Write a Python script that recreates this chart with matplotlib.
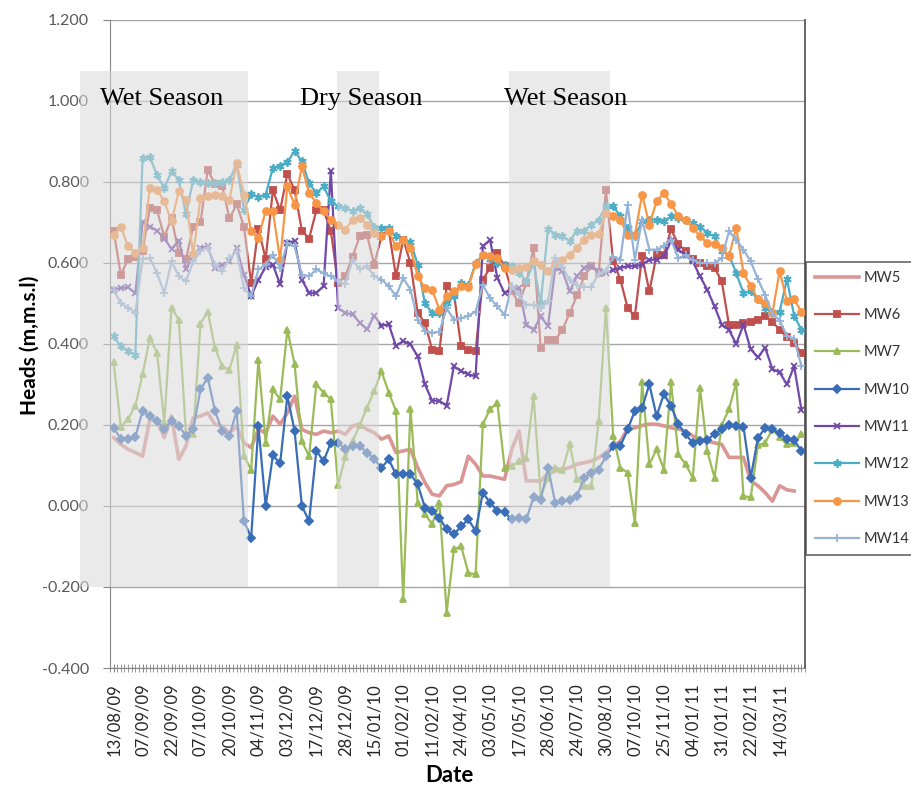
import numpy as np
import matplotlib
matplotlib.use('Agg')
import matplotlib.pyplot as plt
from matplotlib.patches import Rectangle

plt.rcParams['font.family'] = ['Lato', 'DejaVu Sans']

nan = np.nan

# dates shown on the category axis (one label every 4 readings)
date_labels = ['13/08/09', '07/09/09', '22/09/09', '07/10/09', '20/10/09', '04/11/09',
               '03/12/09', '17/12/09', '28/12/09', '15/01/10', '01/02/10', '11/02/10',
               '24/04/10', '03/05/10', '17/05/10', '28/06/10', '24/07/10', '30/08/10',
               '07/10/10', '25/11/10', '04/01/11', '31/01/11', '22/02/11', '14/03/11']

# groundwater heads (m, m.s.l) for each monitoring well
mw5 = [0.169, 0.152, 0.140, 0.132, 0.123, 0.214, 0.210, 0.169, 0.222, 0.115,
       0.148, 0.218, 0.222, 0.230, 0.202, 0.197, 0.180, 0.197, 0.156, 0.144,
       0.190, 0.180, 0.222, 0.202, 0.230, 0.271, 0.189, 0.181, 0.177, 0.185,
       0.181, 0.185, 0.177, 0.198, 0.202, 0.189, 0.181, 0.165, 0.173, 0.132,
       0.136, 0.140, 0.095, 0.058, 0.029, 0.025, 0.050, 0.053, 0.060, 0.123,
       0.103, 0.074, 0.074, 0.070, 0.066, 0.140, 0.185, 0.062, 0.062, 0.062,
       0.080, 0.086, 0.090, 0.095, 0.103, 0.107, 0.111, 0.119, 0.132, 0.148,
       0.160, 0.190, 0.193, 0.199, 0.202, 0.202, 0.198, 0.193, 0.190, 0.185,
       0.173, 0.165, 0.160, 0.156, 0.152, 0.120, 0.120, 0.120, 0.062, 0.050,
       0.033, 0.012, 0.050, 0.040, 0.037, nan]

mw6 = [0.680, 0.570, 0.610, 0.615, 0.630, 0.735, 0.730, 0.665, 0.710, 0.625,
       0.610, 0.690, 0.700, 0.830, 0.795, 0.790, 0.710, 0.745, 0.690, 0.550,
       0.685, 0.610, 0.780, 0.730, 0.820, 0.780, 0.680, 0.660, 0.730, 0.730,
       0.680, 0.550, 0.567, 0.616, 0.666, 0.670, 0.596, 0.666, 0.682, 0.567,
       0.658, 0.600, 0.477, 0.452, 0.386, 0.382, 0.542, 0.526, 0.394, 0.386,
       0.382, 0.559, 0.588, 0.625, 0.592, 0.530, 0.500, 0.550, 0.637, 0.390,
       0.410, 0.410, 0.435, 0.477, 0.520, 0.567, 0.592, 0.575, 0.780, 0.604,
       0.559, 0.489, 0.469, 0.617, 0.530, 0.620, 0.620, 0.683, 0.646, 0.630,
       0.609, 0.600, 0.592, 0.588, 0.555, 0.447, 0.447, 0.451, 0.455, 0.460,
       0.468, 0.455, 0.435, 0.418, 0.402, 0.378]

mw7 = [0.355, 0.195, 0.215, 0.247, 0.325, 0.415, 0.378, 0.205, 0.490, 0.460,
       0.178, 0.178, 0.450, 0.480, 0.390, 0.345, 0.337, 0.398, 0.123, 0.090,
       0.360, 0.156, 0.288, 0.263, 0.435, 0.350, 0.160, 0.123, 0.300, 0.280,
       0.263, 0.053, 0.120, 0.160, 0.200, 0.243, 0.284, 0.333, 0.280, 0.235,
       -0.230, 0.240, 0.008, -0.020, -0.045, 0.008, -0.263, -0.107, -0.099, -0.165,
       -0.169, 0.202, 0.239, 0.255, 0.095, 0.099, 0.110, 0.119, 0.272, 0.025,
       0.070, 0.095, 0.090, 0.152, 0.066, 0.050, 0.049, 0.210, 0.490, 0.173,
       0.095, 0.082, -0.041, 0.305, 0.103, 0.140, 0.090, 0.305, 0.128, 0.103,
       0.070, 0.292, 0.136, 0.070, 0.200, 0.239, 0.305, 0.025, 0.021, 0.150,
       0.156, 0.190, 0.170, 0.152, 0.155, 0.177]

mw10 = [0.193, 0.165, 0.165, 0.170, 0.235, 0.222, 0.210, 0.190, 0.210, 0.198,
        0.173, 0.190, 0.288, 0.317, 0.235, 0.185, 0.173, 0.235, -0.037, -0.078,
        0.197, 0.000, 0.125, 0.105, 0.272, 0.185, 0.000, -0.037, 0.136, 0.111,
        0.156, 0.156, 0.140, 0.148, 0.148, 0.132, 0.115, 0.095, 0.115, 0.078,
        0.078, 0.078, 0.054, -0.004, -0.012, -0.029, -0.058, -0.070, -0.050, -0.033,
        -0.062, 0.033, 0.008, -0.012, -0.016, -0.033, -0.029, -0.033, 0.021, 0.016,
        0.095, 0.008, 0.012, 0.016, 0.025, 0.070, 0.082, 0.090, 0.123, 0.148,
        0.148, 0.189, 0.235, 0.243, 0.300, 0.222, 0.276, 0.247, 0.202, 0.177,
        0.156, 0.160, 0.164, 0.177, 0.189, 0.200, 0.198, 0.196, 0.070, 0.168,
        0.193, 0.189, 0.180, 0.165, 0.163, 0.136]

mw11 = [0.534, 0.538, 0.540, 0.525, 0.700, 0.690, 0.680, 0.660, 0.635, 0.655,
        0.585, 0.620, 0.637, 0.641, 0.588, 0.596, 0.604, 0.637, 0.571, 0.518,
        0.559, 0.590, 0.596, 0.547, 0.650, 0.654, 0.559, 0.526, 0.526, 0.543,
        0.827, 0.489, 0.477, 0.473, 0.453, 0.436, 0.470, 0.445, 0.449, 0.395,
        0.407, 0.399, 0.370, 0.300, 0.260, 0.260, 0.247, 0.345, 0.333, 0.325,
        0.320, 0.641, 0.657, 0.563, 0.526, 0.534, 0.538, 0.448, 0.435, 0.468,
        0.444, 0.588, 0.580, 0.530, 0.567, 0.588, 0.592, 0.580, 0.575, 0.583,
        0.588, 0.592, 0.592, 0.596, 0.608, 0.608, 0.617, 0.654, 0.633, 0.620,
        0.604, 0.567, 0.534, 0.493, 0.448, 0.435, 0.400, 0.448, 0.387, 0.367,
        0.391, 0.338, 0.330, 0.300, 0.345, 0.238]

mw12 = [0.419, 0.394, 0.382, 0.374, 0.860, 0.862, 0.817, 0.785, 0.826, 0.806,
        0.720, 0.806, 0.800, 0.798, 0.798, 0.800, 0.806, 0.843, 0.732, 0.770,
        0.763, 0.768, 0.835, 0.840, 0.850, 0.876, 0.851, 0.797, 0.773, 0.789,
        0.752, 0.740, 0.736, 0.728, 0.736, 0.720, 0.690, 0.686, 0.686, 0.666,
        0.658, 0.653, 0.596, 0.500, 0.477, 0.477, 0.500, 0.518, 0.550, 0.545,
        0.600, 0.620, 0.610, 0.600, 0.596, 0.592, 0.575, 0.555, 0.600, 0.500,
        0.685, 0.670, 0.666, 0.654, 0.680, 0.680, 0.695, 0.707, 0.740, 0.740,
        0.716, 0.687, 0.666, 0.703, 0.707, 0.707, 0.703, 0.715, 0.711, 0.707,
        0.699, 0.690, 0.674, 0.666, 0.630, 0.620, 0.575, 0.526, 0.530, 0.510,
        0.490, 0.478, 0.480, 0.560, 0.470, 0.435]

mw13 = [0.670, 0.689, 0.641, 0.625, 0.637, 0.785, 0.781, 0.752, 0.703, 0.777,
        0.756, 0.621, 0.760, 0.765, 0.769, 0.765, 0.756, 0.847, 0.769, 0.678,
        0.662, 0.728, 0.728, 0.608, 0.789, 0.744, 0.839, 0.773, 0.748, 0.728,
        0.707, 0.695, 0.682, 0.707, 0.711, 0.695, 0.674, 0.666, 0.678, 0.641,
        0.658, 0.637, 0.567, 0.538, 0.534, 0.485, 0.518, 0.531, 0.543, 0.540,
        0.597, 0.620, 0.618, 0.612, 0.587, 0.583, 0.587, 0.591, 0.604, 0.596,
        0.580, 0.600, 0.608, 0.620, 0.637, 0.658, 0.670, 0.672, 0.723, 0.715,
        0.707, 0.670, 0.670, 0.769, 0.695, 0.752, 0.773, 0.745, 0.716, 0.707,
        0.687, 0.666, 0.650, 0.646, 0.637, 0.617, 0.687, 0.575, 0.543, 0.510,
        0.500, 0.477, 0.580, 0.506, 0.510, 0.480]

mw14 = [0.534, 0.500, 0.490, 0.477, 0.610, 0.612, 0.575, 0.526, 0.604, 0.567,
        0.555, 0.604, 0.629, 0.637, 0.596, 0.580, 0.612, 0.629, 0.538, 0.518,
        0.584, 0.596, 0.620, 0.588, 0.649, 0.641, 0.571, 0.567, 0.584, 0.575,
        0.567, 0.555, 0.547, 0.608, 0.584, 0.592, 0.567, 0.559, 0.543, 0.518,
        0.563, 0.534, 0.460, 0.432, 0.428, 0.430, 0.488, 0.460, 0.463, 0.470,
        0.480, 0.546, 0.513, 0.493, 0.472, 0.543, 0.520, 0.497, 0.497, 0.489,
        0.505, 0.612, 0.590, 0.557, 0.545, 0.541, 0.541, 0.574, 0.580, 0.616,
        0.608, 0.744, 0.608, 0.707, 0.633, 0.633, 0.641, 0.658, 0.612, 0.620,
        0.607, 0.600, 0.600, 0.600, 0.612, 0.678, 0.658, 0.633, 0.604, 0.560,
        0.520, 0.475, 0.458, 0.420, 0.413, 0.346]

# season bands (start, end in reading index) and their captions
seasons = [(-4.64, 18.56, 'Wet Season', -1.9),
           (30.86, 36.66, 'Dry Season', 25.7),
           (54.6, 68.5, 'Wet Season', 53.9)]

wells = [('MW5', mw5, '#D99694', None),
         ('MW6', mw6, '#C0504D', 's'),
         ('MW7', mw7, '#9BBB59', '^'),
         ('MW10', mw10, '#3A6DB8', 'D'),
         ('MW11', mw11, '#7048A8', 'x'),
         ('MW12', mw12, '#4BACC6', (6, 2, 0)),
         ('MW13', mw13, '#F79646', 'o'),
         ('MW14', mw14, '#95B3D7', '+')]

fig = plt.figure(figsize=(9.11, 7.86), dpi=100)
ax = fig.add_axes([110/911, 118/786, 695/911, 648/786])

x = np.arange(len(mw5))
lines = []
for name, vals, col, mk in wells:
    if mk is None:
        ln, = ax.plot(x, vals, color=col, lw=2.6, label=name, zorder=3)
    else:
        ms = {'s': 4, '^': 5, 'D': 3.8, 'x': 5, 'o': 5, '+': 6}.get(mk, 6)
        ln, = ax.plot(x, vals, color=col, lw=1.6, marker=mk, ms=ms, mew=1.3,
                      label=name, zorder=3)
    lines.append(ln)

# grey season bands sit over the series so they look faded inside
for x0, x1, txt, tx in seasons:
    ax.add_patch(Rectangle((x0, -0.2), x1 - x0, 1.275, facecolor='#d9d9d9',
                           edgecolor='none', alpha=0.55, zorder=5, clip_on=False))
    ax.text(tx, 0.99, txt, fontfamily='Liberation Serif', fontsize=19,
            color='black', zorder=6, clip_on=False)

ax.set_xlim(-0.5, len(mw5) - 0.5)
ax.set_ylim(-0.4, 1.2)

yt = [-0.4, -0.2, 0.0, 0.2, 0.4, 0.6, 0.8, 1.0, 1.2]
ax.set_yticks(yt)
ax.set_yticklabels(['%.3f' % v for v in yt])
ax.set_xticks(x[::4])
ax.set_xticklabels(date_labels, rotation=90)
ax.set_xticks(np.arange(-0.5, len(mw5), 0.5), minor=True)

ax.yaxis.grid(True, color='#a6a6a6', lw=1)
ax.set_axisbelow(True)
ax.tick_params(axis='y', direction='out', length=5, color='#868686',
               labelcolor='#595959', labelsize=11.5, pad=10)
ax.tick_params(axis='x', which='both', direction='inout', length=6,
               color='#868686', labelcolor='#262626', labelsize=12, pad=8)

ax.spines['top'].set_visible(False)
ax.spines['left'].set_color('#868686')
ax.spines['bottom'].set_color('#868686')
ax.spines['right'].set_color('#595959')
ax.spines['right'].set_linewidth(1.3)

fig.text(30/911, 1 - 345/786, 'Heads (m,m.s.l)', rotation=90, ha='center',
         va='center', fontsize=15, fontweight='bold')
fig.text(449/911, 1 - 775/786, 'Date', ha='center', va='center',
         fontsize=16, fontweight='bold')

leg = fig.legend(lines, [w[0] for w in wells], loc='upper left',
                 bbox_to_anchor=(806/911, 1 - 262/786), frameon=True,
                 fancybox=False, edgecolor='#404040', fontsize=10.5,
                 labelspacing=1.6, handlelength=3.0, handletextpad=0.35,
                 borderpad=0.6, borderaxespad=0)
leg.get_frame().set_linewidth(1.2)
for t in leg.get_texts():
    t.set_color('#333333')

fig.savefig('out.png', dpi=100)
